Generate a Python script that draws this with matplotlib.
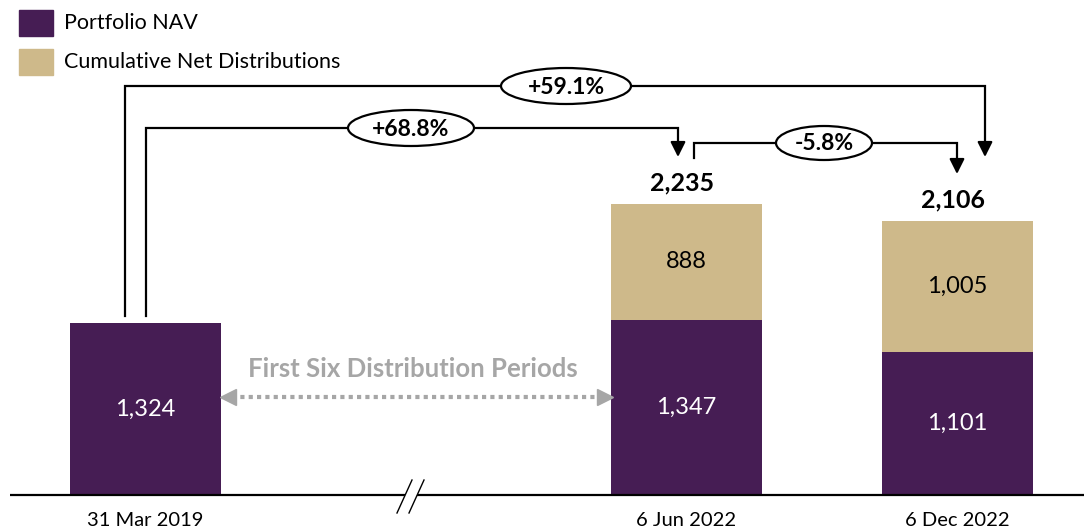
import matplotlib
matplotlib.use("Agg")
import matplotlib.pyplot as plt
from matplotlib.patches import Ellipse, Rectangle, Polygon

plt.rcParams['font.family'] = ['Lato', 'DejaVu Sans']

# ---- data ----
categories = ["31 Mar 2019", "6 Jun 2022", "6 Dec 2022"]
nav = [1324, 1347, 1101]
distributions = [0, 888, 1005]
totals = [1324, 2235, 2106]
changes = ["+68.8%", "+59.1%", "-5.8%"]
series_names = ["Portfolio NAV", "Cumulative Net Distributions"]
period_label = "First Six Distribution Periods"

PURPLE = "#461D54"
TAN = "#CEB98A"
GREY = "#A6A6A6"

W, H = 1084, 529
fig = plt.figure(figsize=(W / 100, H / 100), dpi=100)

# main axes, data scale
ax = fig.add_axes([0, 0, 1, 1])
xpos = [0, 2, 3]
unit = 270.75
scale = 0.1301
ax.set_xlim(-145 / unit, (W - 145) / unit)
ax.set_ylim(-34 / scale, (H - 34) / scale)
ax.axis('off')

bw = 151 / unit
ax.bar(xpos, nav, width=bw, color=PURPLE, zorder=2)
ax.bar(xpos[1:], distributions[1:], bottom=nav[1:], width=bw, color=TAN, zorder=2)

for x, v in zip(xpos, nav):
    ax.text(x, v / 2, f"{v:,}", ha='center', va='center', color='white', fontsize=17, zorder=3)
for x, v, b in zip(xpos[1:], distributions[1:], nav[1:]):
    ax.text(x, b + v / 2, f"{v:,}", ha='center', va='center', color='black', fontsize=17, zorder=3)
for x, t in zip(xpos[1:], totals[1:]):
    ax.annotate(f"{t:,}", xy=(x, t), xytext=(-3, 7), textcoords='offset points',
                ha='center', va='bottom', fontsize=18, fontweight='bold')
for x, c in zip(xpos, categories):
    ax.annotate(c, xy=(x, 0), xytext=(0, -12), textcoords='offset points',
                ha='center', va='top', fontsize=14.5)

# overlay in pixel coordinates
ov = fig.add_axes([0, 0, 1, 1], facecolor='none')
ov.set_xlim(0, W)
ov.set_ylim(H, 0)
ov.axis('off')

# baseline
ov.plot([10, W], [495, 495], color='black', lw=1.6, solid_capstyle='butt', zorder=4)
# axis break
ov.add_patch(Polygon([(397, 513), (412, 480), (424, 480), (409, 513)], closed=True,
                     facecolor='white', edgecolor='none', zorder=5))
ov.plot([397, 412], [513, 480], color='black', lw=1.0, zorder=6)
ov.plot([409, 424], [513, 480], color='black', lw=1.0, zorder=6)

# legend
ov.add_patch(Rectangle((19, 10), 34, 26, color=PURPLE))
ov.add_patch(Rectangle((19, 49), 34, 26, color=TAN))
ov.text(64, 23, series_names[0], ha='left', va='center', fontsize=15.5)
ov.text(64, 62, series_names[1], ha='left', va='center', fontsize=15.5)

LW = 1.6
ahead = dict(arrowstyle='-|>,head_length=0.9,head_width=0.45', lw=LW, color='black',
             shrinkA=0, shrinkB=0)

def connector(x0, y0, yh, x1, ytip, label, cx, ew, eh):
    ov.plot([x0, x0, x1, x1], [y0, yh, yh, ytip - 10], color='black', lw=LW, zorder=4,
            solid_joinstyle='miter')
    ov.annotate('', xy=(x1, ytip), xytext=(x1, ytip - 12), arrowprops=ahead, zorder=4)
    ov.add_patch(Ellipse((cx, yh), ew, eh, facecolor='white', edgecolor='black', lw=LW, zorder=5))
    ov.text(cx, yh + 1, label, ha='center', va='center', fontsize=16.5, fontweight='bold', zorder=6)

connector(125, 316, 86, 985, 157, changes[1], 566, 130, 36)
connector(146, 316, 128, 678, 157, changes[0], 411, 126, 36)
connector(694, 158, 143, 957, 174, changes[2], 824, 96, 34)

# dotted double arrow + label
ov.plot([232, 601], [397, 397], color=GREY, lw=3, linestyle=(0, (1, 1)), zorder=3)
ov.plot([228], [397], marker='<', color=GREY, markersize=11, zorder=3)
ov.plot([605], [397], marker='>', color=GREY, markersize=11, zorder=3)
ov.text(413, 369, period_label, ha='center', va='center', fontsize=18.5, fontweight='bold', color=GREY)

fig.savefig("out.png", dpi=100)
